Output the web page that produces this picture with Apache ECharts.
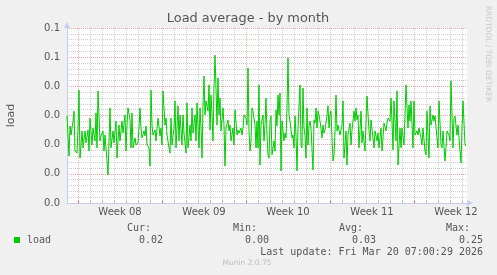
<!DOCTYPE html>
<html>
<head>
<meta charset="utf-8">
<script src="https://cdn.jsdelivr.net/npm/echarts@6/dist/echarts.min.js"></script>
<style>
html,body{margin:0;padding:0;background:#F0F0F0;}
#chart{width:497px;height:275px;}
</style>
</head>
<body>
<div id="chart"></div>
<script>
// ---- data ----
const chartTitle = 'Load average - by month';
const yAxisName = 'load';
const seriesName = 'load';
// x = 2-hour time slot since graph start (Sun Feb 15 2026 ~02:00), value = load
const loadSeries = [
[0,0.0300],[1,0.0303],[2,0.0161],[3,0.0264],[4,0.0233],[6,0.0281],[7,0.0315],[8,0.0178],[10,0.0171],[11,0.0257],[12,0.0387],[13,0.0154],[15,0.0247],[16,0.0189],[18,0.0247],[19,0.0206],[21,0.0250],[22,0.0178],[23,0.0291],[25,0.0199],[26,0.0257],[28,0.0213],[29,0.0309],[30,0.0189],[31,0.0384],[33,0.0213],[34,0.0230],[36,0.0247],[37,0.0178],[38,0.0233],[40,0.0144],[41,0.0096],[43,0.0326],[44,0.0189],[46,0.0247],[47,0.0206],[49,0.0281],[50,0.0154],[52,0.0267],[53,0.0213],[55,0.0281],[56,0.0240],[58,0.0302],[59,0.0178],[60,0.0267],[61,0.0326],[63,0.0285],[64,0.0189],[65,0.0309],[66,0.0189],[68,0.0223],[69,0.0199],
[71,0.0206],[72,0.0257],[73,0.0326],[74,0.0257],[75,0.0223],[77,0.0247],[78,0.0230],[79,0.0264],[80,0.0199],[82,0.0189],[83,0.0127],[84,0.0387],[85,0.0267],[86,0.0233],[88,0.0250],[89,0.0213],[90,0.0257],[91,0.0291],[93,0.0230],[94,0.0257],[95,0.0199],[96,0.0384],[98,0.0267],[99,0.0291],[100,0.0233],[102,0.0189],[103,0.0171],[104,0.0291],[105,0.0199],[107,0.0257],[108,0.0350],[109,0.0189],[111,0.0333],[112,0.0213],[113,0.0302],[115,0.0199],[116,0.0302],[117,0.0240],[119,0.0171],[120,0.0343],[121,0.0189],[123,0.0267],[124,0.0213],[125,0.0326],[126,0.0240],[128,0.0302],[129,0.0213],[130,0.0343],[132,0.0189],[133,0.0326],[134,0.0257],[135,0.0154],[136,0.0336],[137,0.0435],
[138,0.0302],[139,0.0350],[141,0.0315],[142,0.0405],[143,0.0250],[144,0.0370],[145,0.0302],[146,0.0213],[147,0.0394],[148,0.0507],[149,0.0394],[150,0.0267],[151,0.0429],[152,0.0302],[153,0.0360],[154,0.0247],[156,0.0326],[157,0.0267],[158,0.0127],[159,0.0257],[161,0.0285],[162,0.0247],[163,0.0267],[164,0.0213],[166,0.0257],[167,0.0199],[168,0.0319],[170,0.0233],[171,0.0250],[172,0.0240],[174,0.0257],[175,0.0233],[176,0.0257],[177,0.0302],[179,0.0291],[180,0.0267],[181,0.0463],[182,0.0247],[183,0.0178],[184,0.0213],[185,0.0326],[186,0.0315],[188,0.0267],[189,0.0189],[190,0.0281],[191,0.0189],[192,0.0405],[193,0.0130],[194,0.0267],[196,0.0302],[197,0.0213],[198,0.0267],[199,0.0360],[200,0.0233],[201,0.0165],[202,0.0154],[203,0.0280],
[204,0.0298],[205,0.0165],[207,0.0213],[208,0.0178],[209,0.0319],[210,0.0264],[211,0.0370],[212,0.0302],[213,0.0377],[214,0.0110],[215,0.0281],[217,0.0213],[218,0.0240],[219,0.0223],[220,0.0326],[221,0.0497],[222,0.0302],[223,0.0281],[225,0.0223],[226,0.0233],[227,0.0189],[228,0.0298],[229,0.0233],[230,0.0110],[231,0.0257],[233,0.0405],[234,0.0199],[235,0.0189],[236,0.0394],[237,0.0257],[238,0.0233],[239,0.0154],[240,0.0326],[241,0.0199],[242,0.0264],[243,0.0281],[244,0.0257],[246,0.0113],[247,0.0285],[248,0.0274],[249,0.0326],[250,0.0257],[251,0.0315],[252,0.0302],[254,0.0257],[255,0.0223],[256,0.0267],[257,0.0240],[258,0.0250],[260,0.0302],[261,0.0333],[262,0.0257],[263,0.0302],[264,0.0315],[265,0.0223],[266,0.0144],[267,0.0165],[268,0.0247],[269,0.0370],[270,0.0247],[271,0.0267],[273,0.0233],
[274,0.0233],[275,0.0267],[276,0.0350],[277,0.0154],[279,0.0247],[280,0.0130],[281,0.0233],[283,0.0274],[284,0.0199],[285,0.0250],[287,0.0315],[288,0.0281],[289,0.0326],[290,0.0285],[291,0.0302],[292,0.0189],[294,0.0315],[295,0.0206],[296,0.0247],[298,0.0178],[299,0.0281],[300,0.0367],[302,0.0247],[303,0.0213],[304,0.0285],[306,0.0285],[307,0.0189],[308,0.0247],[310,0.0213],[311,0.0240],[312,0.0189],[314,0.0257],[315,0.0178],[316,0.0223],[317,0.0274],[319,0.0247],[320,0.0274],[321,0.0291],[323,0.0281],[324,0.0360],[325,0.0281],[326,0.0182],[327,0.0350],[329,0.0213],[330,0.0384],[331,0.0130],[333,0.0257],[334,0.0189],[335,0.0257],[337,0.0199],[338,0.0302],[339,0.0405],[341,0.0257],
[342,0.0336],[343,0.0281],[344,0.0350],[346,0.0189],[347,0.0350],[348,0.0233],[350,0.0247],[351,0.0233],[352,0.0257],[354,0.0223],[355,0.0199],[356,0.0257],[358,0.0178],[359,0.0165],[360,0.0315],[362,0.0154],[363,0.0333],[364,0.0267],[366,0.0302],[367,0.0281],[368,0.0298],[370,0.0223],[371,0.0189],[372,0.0350],[374,0.0199],[375,0.0189],[376,0.0247],[378,0.0144],[379,0.0189],[380,0.0247],[382,0.0233],[383,0.0213],[384,0.0418],[386,0.0189],[387,0.0291],[388,0.0298],[390,0.0233],[391,0.0267],[392,0.0223],[394,0.0137],[395,0.0257],[396,0.0350],[398,0.0199],[399,0.0195]
];
const totalSlots = 400;           // 400 x 2h = one "month" graph
const slotsPerDay = 12;
const weekLabels = ['Week 08', 'Week 09', 'Week 10', 'Week 11', 'Week 12'];
const weekStartSlots = [11, 95, 179, 263, 347];   // Monday 00:00 of each week
const yTickLabels = ['0.0', '0.0', '0.0', '0.0', '0.0', '0.1', '0.1']; // 0.00 .. 0.06 as shown by munin
const yMax = 0.06, yStep = 0.01;
const statLabels = ['Cur:', 'Min:', 'Avg:', 'Max:'];
const statValues = ['0.02', '0.00', '0.03', '0.25'];
const lastUpdate = 'Last update: Fri Mar 20 07:00:29 2026';
const footer = 'Munin 2.0.75';
const watermark = 'RRDTOOL / TOBI OETIKER';

// ---- build ----
const slotCats = [];
for (let i = 0; i <= totalSlots; i++) {
  const k = weekStartSlots.indexOf(i - slotsPerDay * 3.5);
  slotCats.push(k >= 0 ? weekLabels[k] : '');
}
const firstDay = weekStartSlots[0] % slotsPerDay;
const isWeek = i => weekStartSlots.indexOf(i) >= 0;
const isDay = i => ((i - firstDay) % slotsPerDay === 0) && !isWeek(i);

const AXIS = '#c5cbf0';
const GRID = '#d0d0d0';
const MGRID = '#eea3a3';
const MGRID_V = '#f2b6b6';
const TXT = '#555555';

const chart = echarts.init(document.getElementById('chart'), null, {renderer: 'canvas'});
const statX = [151, 257, 363, 470];
const valX = [163, 269, 376, 483];
const graphics = [
  {type: 'text', x: 248, y: 19, style: {text: chartTitle, font: '12.9px "DejaVu Sans"', fill: TXT, textAlign: 'center', textVerticalAlign: 'middle'}},
  {type: 'text', x: 488, y: 54, rotation: -Math.PI / 2, style: {text: watermark, font: '7.5px "DejaVu Sans"', fill: '#c8c8c8', textAlign: 'center', textVerticalAlign: 'middle'}},
  {type: 'rect', shape: {x: 14, y: 237, width: 6, height: 6}, style: {fill: '#00CC00'}},
  {type: 'text', x: 27, y: 240, style: {text: seriesName, font: '10px "DejaVu Sans Mono"', fill: TXT, textAlign: 'left', textVerticalAlign: 'middle'}},
  {type: 'text', x: 483, y: 252, style: {text: lastUpdate, font: '10px "DejaVu Sans Mono"', fill: TXT, textAlign: 'right', textVerticalAlign: 'middle'}},
  {type: 'text', x: 247, y: 263, style: {text: footer, font: '7.5px "DejaVu Sans"', fill: '#bdbdbd', textAlign: 'center', textVerticalAlign: 'middle'}}
];
statLabels.forEach((s, i) => {
  graphics.push({type: 'text', x: statX[i], y: 228, style: {text: s, font: '10px "DejaVu Sans Mono"', fill: TXT, textAlign: 'right', textVerticalAlign: 'middle'}});
  graphics.push({type: 'text', x: valX[i], y: 240, style: {text: statValues[i], font: '10px "DejaVu Sans Mono"', fill: TXT, textAlign: 'right', textVerticalAlign: 'middle'}});
});

const option = {
  animation: false,
  backgroundColor: '#F0F0F0',
  grid: {left: 67, top: 28, width: 400, height: 175, show: true, backgroundColor: '#FFFFFF', borderWidth: 0,
         containLabel: false, outerBoundsMode: 'none'},
  xAxis: [
    {type: 'value', min: 0, max: totalSlots, show: false},
    {
      type: 'category', position: 'bottom', data: slotCats, boundaryGap: false, z: 3,
      axisLine: {show: true, lineStyle: {color: AXIS, width: 1}, symbol: ['none', 'triangle'], symbolSize: [6, 6], symbolOffset: [0, 3]},
      axisTick: {show: true, interval: (i) => isDay(i), length: 2, inside: true, lineStyle: {color: '#bbbbbb'}},
      axisLabel: {show: true, interval: (i, v) => v !== '', color: TXT, fontFamily: 'DejaVu Sans', fontSize: 10, margin: 4},
      splitLine: {show: true, interval: (i) => isDay(i), lineStyle: {color: GRID, type: [1, 1], width: 1}}
    },
    {
      type: 'category', position: 'bottom', data: slotCats, boundaryGap: false, z: 4,
      axisLine: {show: false},
      axisTick: {show: true, interval: (i) => isWeek(i), length: 2, inside: true, lineStyle: {color: '#e06060'}},
      axisLabel: {show: false},
      splitLine: {show: true, interval: (i) => isWeek(i), lineStyle: {color: MGRID_V, type: [1, 1], width: 1}}
    }
  ],
  yAxis: {
    type: 'value', min: 0, max: yMax, interval: yStep,
    name: yAxisName, nameLocation: 'middle', nameGap: 50, nameRotate: 90,
    nameTextStyle: {color: TXT, fontFamily: 'DejaVu Sans', fontSize: 11},
    axisLine: {show: true, lineStyle: {color: AXIS, width: 1}, symbol: ['none', 'triangle'], symbolSize: [6, 6], symbolOffset: [0, 3]},
    axisTick: {show: false},
    axisLabel: {color: TXT, fontFamily: 'DejaVu Sans', fontSize: 10, margin: 7,
      formatter: v => yTickLabels[Math.round(v / yStep)]},
    splitLine: {show: true, lineStyle: {color: MGRID, type: [1, 1], width: 1}},
    minorTick: {show: false, splitNumber: 5},
    minorSplitLine: {show: true, lineStyle: {color: GRID, type: [1, 1], width: 1}}
  },
  series: [{
    name: seriesName, type: 'line', xAxisIndex: 0, yAxisIndex: 0,
    data: loadSeries, showSymbol: false, symbol: 'none', z: 5,
    lineStyle: {color: '#00CC00', width: 1}
  }],
  graphic: graphics
};
chart.setOption(option);
</script>
</body>
</html>
